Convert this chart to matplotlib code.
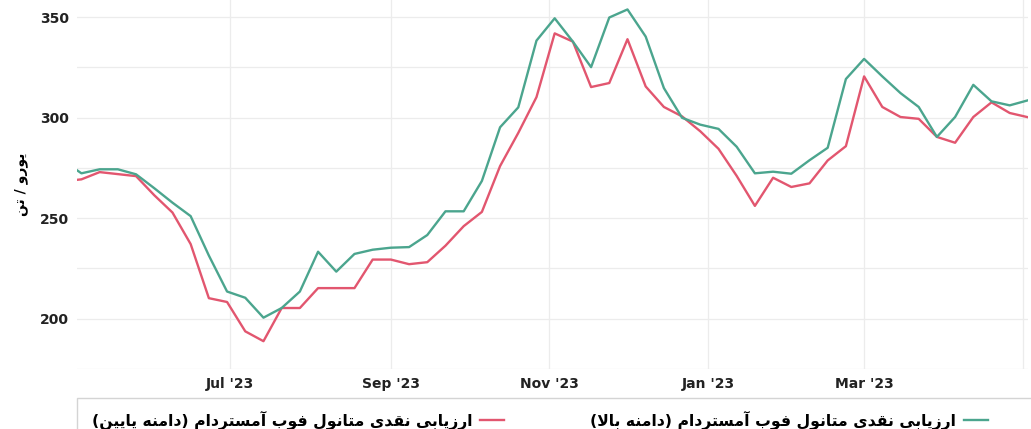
import pandas as pd
import matplotlib
matplotlib.use('Agg')
import matplotlib.pyplot as plt
from matplotlib.lines import Line2D
from matplotlib.patches import Rectangle

# --- data (weekly) ---
dates = pd.date_range('2023-04-28', periods=54, freq='7D')

high = [278.5, 272.3, 274.3, 274.3, 271.8, 264.9, 257.7, 251.0, 231.4, 213.5,
        210.4, 200.5, 205.3, 213.5, 233.3, 223.4, 232.2, 234.3, 235.3, 235.6,
        241.6, 253.4, 253.4, 268.5, 295.2, 305.1, 338.3, 349.4, 337.8, 325.1,
        349.8, 353.8, 340.3, 314.7, 299.9, 296.5, 294.4, 285.5, 272.3, 273.1,
        272.1, 278.8, 285.0, 319.2, 329.2, 320.5, 312.2, 305.3, 290.4, 300.3,
        316.3, 308.1, 306.1, 308.6]

low = [268.3, 269.3, 272.9, 271.9, 270.9, 261.4, 252.8, 237.1, 210.2, 208.3,
       193.7, 188.8, 205.3, 205.3, 215.2, 215.2, 215.2, 229.4, 229.4, 227.1,
       228.1, 236.3, 246.0, 253.1, 275.9, 292.4, 310.2, 341.9, 337.8, 315.2,
       317.2, 339.0, 315.5, 305.3, 300.6, 293.2, 284.5, 271.0, 256.1, 270.1,
       265.5, 267.3, 278.7, 285.8, 320.5, 305.3, 300.3, 299.4, 290.4, 287.5,
       300.3, 307.6, 302.3, 300.2]

tick_dates = pd.to_datetime(['2023-07-01', '2023-09-01', '2023-11-01',
                             '2024-01-01', '2024-03-01', '2024-05-01'])
tick_labels = ["Jul '23", "Sep '23", "Nov '23", "Jan '23", "Mar '23", ""]

label_high = 'ارزیابی نقدی متانول فوب آمستردام (دامنه بالا)'
label_low = 'ارزیابی نقدی متانول فوب آمستردام (دامنه پایین)'
y_title = 'یورو / تن'

# --- simple persian shaping (matplotlib has no bidi / joining) ---
DUAL = set('بپتثجچحخسشصضطظعغفقکكگلمنهیيئ')
RIGHT = set('اآأإدذرزژوؤة')
FORMS = {
    'ا': ('\uFE8D', '\uFE8E', None, None),
    'آ': ('\uFE81', '\uFE82', None, None),
    'ب': ('\uFE8F', '\uFE90', '\uFE91', '\uFE92'),
    'پ': ('\uFB56', '\uFB57', '\uFB58', '\uFB59'),
    'ت': ('\uFE95', '\uFE96', '\uFE97', '\uFE98'),
    'د': ('\uFEA9', '\uFEAA', None, None),
    'ر': ('\uFEAD', '\uFEAE', None, None),
    'ز': ('\uFEAF', '\uFEB0', None, None),
    'س': ('\uFEB1', '\uFEB2', '\uFEB3', '\uFEB4'),
    'ف': ('\uFED1', '\uFED2', '\uFED3', '\uFED4'),
    'ق': ('\uFED5', '\uFED6', '\uFED7', '\uFED8'),
    'ل': ('\uFEDD', '\uFEDE', '\uFEDF', '\uFEE0'),
    'م': ('\uFEE1', '\uFEE2', '\uFEE3', '\uFEE4'),
    'ن': ('\uFEE5', '\uFEE6', '\uFEE7', '\uFEE8'),
    'ه': ('\uFEE9', '\uFEEA', '\uFEEB', '\uFEEC'),
    'و': ('\uFEED', '\uFEEE', None, None),
    'ی': ('\uFBFC', '\uFBFD', '\uFBFE', '\uFBFF'),
}
LAM_ALEF = {'ا': ('\uFEFB', '\uFEFC'), 'آ': ('\uFEF5', '\uFEF6')}


def rtl(s):
    out = []
    i = 0
    while i < len(s):
        c = s[i]
        prev = s[i - 1] if i > 0 else ''
        nxt = s[i + 1] if i + 1 < len(s) else ''
        if c not in FORMS:
            out.append(c)
            i += 1
            continue
        jp = prev in DUAL
        if c == 'ل' and nxt in LAM_ALEF:
            out.append(LAM_ALEF[nxt][1] if jp else LAM_ALEF[nxt][0])
            i += 2
            continue
        jn = c in DUAL and (nxt in DUAL or nxt in RIGHT)
        iso, fin, ini, med = FORMS[c]
        if jp and jn:
            out.append(med)
        elif jp:
            out.append(fin)
        elif jn:
            out.append(ini)
        else:
            out.append(iso)
        i += 1
    vis = ''.join(reversed(out))
    return vis.translate(str.maketrans('()', ')('))


green = '#4ba58e'
red = '#e2566f'

plt.rcParams['font.family'] = ['DejaVu Sans']

fig = plt.figure(figsize=(10.31, 4.29), dpi=100)
ax = fig.add_axes([0.0747, 0.14, 0.9223, 0.86])

ax.plot(dates, low, color=red, lw=1.7, zorder=3)
ax.plot(dates, high, color=green, lw=1.7, zorder=3)

ax.set_xlim(pd.Timestamp('2023-05-03 07:00'), pd.Timestamp('2024-05-03'))
ax.set_ylim(175.5, 358.5)

ax.set_yticks([200, 250, 300, 350])
ax.set_yticks([175, 225, 275, 325], minor=True)
ax.set_xticks(tick_dates)
ax.set_xticklabels(tick_labels)

ax.tick_params(axis='both', length=0, labelsize=10, labelcolor='#222222', pad=6)
ax.tick_params(axis='y', which='minor', length=0)
for lbl in ax.get_xticklabels() + ax.get_yticklabels():
    lbl.set_fontweight('bold')

ax.grid(True, which='both', color='#ececec', lw=0.9)
ax.set_axisbelow(True)
for sp in ax.spines.values():
    sp.set_visible(False)

ax.set_ylabel(rtl(y_title), fontsize=10, fontweight='bold', labelpad=8)

# legend box (top/left edge only visible, like the original)
fig.patches.append(Rectangle((0.0747, -0.1), 1.0, 0.1 + (429 - 398) / 429,
                             transform=fig.transFigure, fill=False,
                             edgecolor='#d4d4d4', lw=1.0))

handles = [Line2D([], [], color=red, lw=1.7), Line2D([], [], color=green, lw=1.7)]
fig.legend(handles, [rtl(label_low), rtl(label_high)], ncol=2, markerfirst=False,
           loc='center left', bbox_to_anchor=(0.0755, 0.02), frameon=False,
           prop={'weight': 'bold', 'size': 11.25}, handlelength=1.55,
           columnspacing=5.5, handletextpad=0.5)

fig.savefig('out.png', dpi=100)
